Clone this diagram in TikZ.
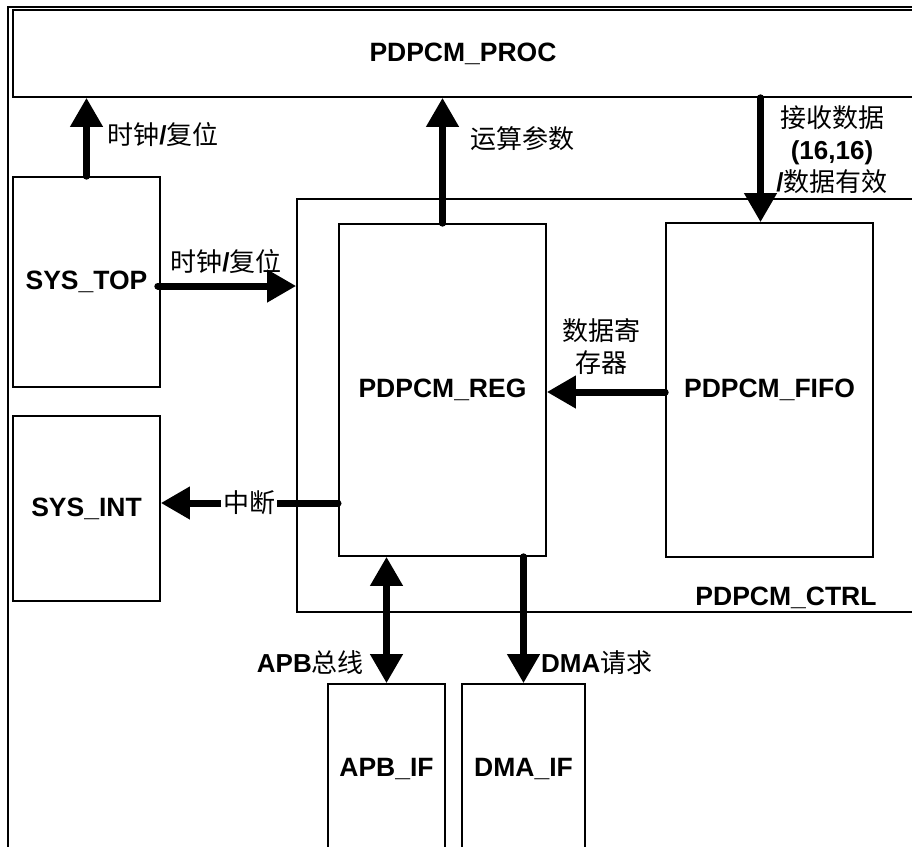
\documentclass[tikz,border=0pt]{standalone}
\usepackage{fontspec}
\setmainfont{Liberation Sans}
\newfontfamily\cjk{Noto Sans CJK SC}
\newcommand{\zhtext}[1]{{\cjk\mdseries #1}}
\usetikzlibrary{arrows.meta,calc}

\begin{document}
\begin{tikzpicture}[x=1pt,y=-1pt,
  blk/.style={draw,line width=1.6pt,inner sep=0pt,font=\fontsize{26.5}{30}\selectfont\bfseries},
  sig/.style={line width=7pt,line cap=round,-{Triangle[length=29pt,width=31pt]}},
  bisig/.style={line width=7pt,{Triangle[length=29pt,width=31pt]}-{Triangle[length=29pt,width=31pt]}},
  lbl/.style={font=\fontsize{26}{32}\selectfont\bfseries,align=center,inner sep=2pt}]
  \useasboundingbox (0,0) rectangle (912,846);
  \clip (0,0) rectangle (912,846);
  % outer frame
  \draw[line width=2.6pt] (8,7) rectangle (940,880);

  % blocks
  \node[blk,minimum width=900,minimum height=87] (proc) at (463,53.5) {PDPCM\_PROC};
  \node[blk,minimum width=147,minimum height=210] (systop) at (86.5,282) {SYS\_TOP};
  \node[blk,minimum width=147,minimum height=185] (sysint) at (86.5,508.5) {SYS\_INT};
  \node[blk,minimum width=643,minimum height=413] (ctrl) at (618.5,405.5) {};
  \node[lbl,font=\fontsize{26.5}{32}\selectfont\bfseries] (ctrlname) at (786,598) {PDPCM\_CTRL};
  \node[blk,minimum width=207,minimum height=332] (reg) at (442.5,390) {PDPCM\_REG};
  \node[blk,minimum width=207,minimum height=334] (fifo) at (769.5,390) {PDPCM\_FIFO};
  \node[blk,minimum width=117,minimum height=170] (apb) at (386.5,769) {APB\_IF};
  \node[blk,minimum width=123,minimum height=170] (dma) at (523.5,769) {DMA\_IF};

  % signals
  \draw[sig] (systop.north) -- (systop.north |- proc.south);
  \node[lbl] (clklbla) at (163,135) {\zhtext{时钟}/\zhtext{复位}};

  \draw[sig] (reg.north) -- (reg.north |- proc.south);
  \node[lbl] (paramlbl) at (522,139) {\zhtext{运算参数}};

  \draw[sig] ([xshift=-9pt]fifo.north |- proc.south) -- ([xshift=-9pt]fifo.north);
  \node[lbl] (rxlbl) at (832,150) {\zhtext{接收数据}\\(16,16)\\/\zhtext{数据有效}};

  \draw[sig] ([xshift=-3pt,yshift=-4pt]systop.east) -- ([yshift=-4pt]systop.east -| ctrl.west);
  \node[lbl] (clklblb) at (226,262) {\zhtext{时钟}/\zhtext{复位}};

  \draw[sig] ([yshift=-2pt]fifo.west) -- ([yshift=-2pt]fifo.west -| reg.east);
  \node[lbl] (datalbl) at (601,347) {\zhtext{数据寄}\\\zhtext{存器}};

  \coordinate (irq) at (338,503);
  \draw[sig] (irq) -- (irq -| sysint.east)
    node[lbl,midway,fill=white] (irqlbl) {\zhtext{中断}};

  \draw[bisig] (apb.north |- reg.south) -- (apb.north);
  \node[lbl,anchor=east] (apblbl) at (366,663) {APB\zhtext{总线}};

  \draw[sig] (dma.north |- reg.south) -- (dma.north);
  \node[lbl,anchor=west] (dmalbl) at (539,663) {DMA\zhtext{请求}};
\end{tikzpicture}
\end{document}
